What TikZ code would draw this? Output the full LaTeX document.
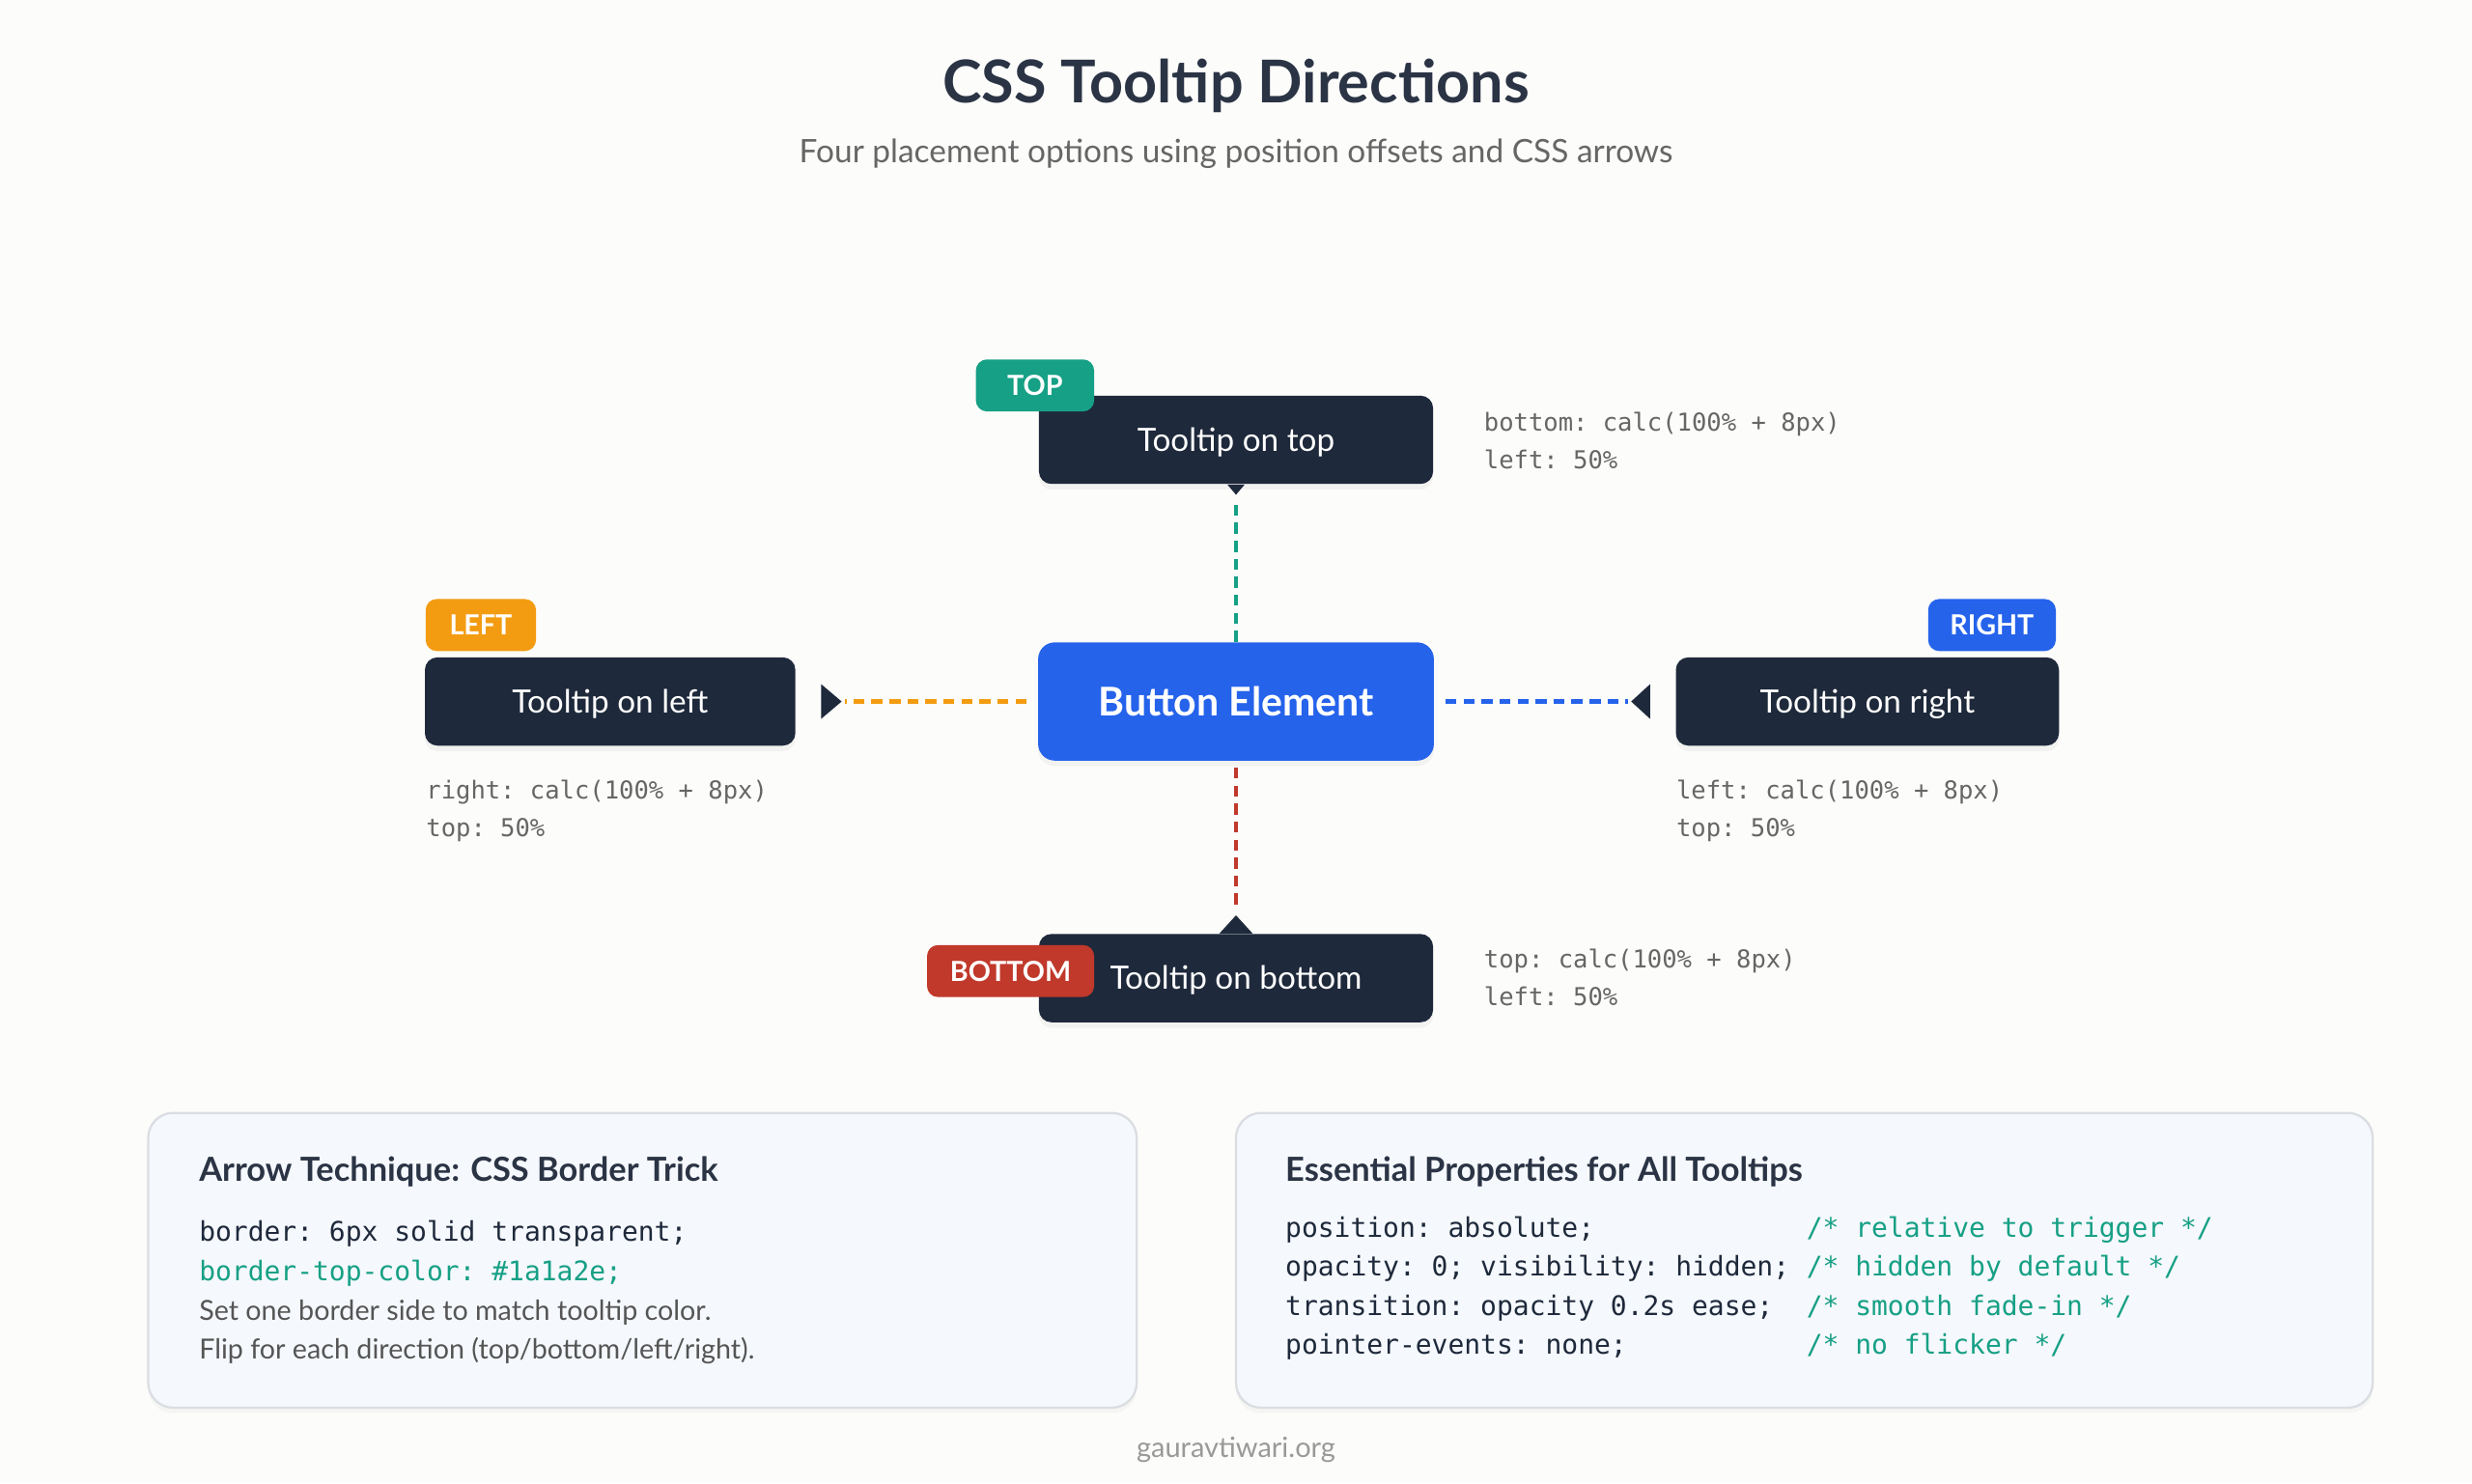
\documentclass[tikz,border=0pt]{standalone}
\usepackage{fontspec}
\setmainfont{Lato}
\setmonofont{DejaVu Sans Mono}
\usetikzlibrary{calc,shadows}

\definecolor{pagebg}{HTML}{FCFCFA}
\definecolor{titleink}{HTML}{2B3445}
\definecolor{subink}{HTML}{666666}
\definecolor{tipdark}{HTML}{1E293B}
\definecolor{btnblue}{HTML}{2563EB}
\definecolor{topteal}{HTML}{16A085}
\definecolor{leftorange}{HTML}{F39C12}
\definecolor{bottomred}{HTML}{C0392B}
\definecolor{codegray}{HTML}{666666}
\definecolor{panelbg}{HTML}{F5F8FC}
\definecolor{panelline}{HTML}{DADDE2}
\definecolor{noteink}{HTML}{555555}
\definecolor{footink}{HTML}{999999}

\def\spx{0.02cm}

\begin{document}
\begin{tikzpicture}[x=0.02cm,y=-0.02cm,
  tip/.style={fill=tipdark,rounded corners=4.5pt,minimum height=56*\spx,inner sep=0pt,
    text=white,text height=8.2pt,text depth=0pt,font=\fontsize{11.6}{14}\selectfont,
    drop shadow={opacity=0.08,shadow xshift=0pt,shadow yshift=-2pt}},
  badge/.style={rounded corners=4pt,minimum height=33*\spx,inner sep=0pt,text=white,
    text height=7.2pt,text depth=0pt,font=\bfseries\fontsize{10}{12}\selectfont},
  poslbl/.style={anchor=west,inner sep=0pt,text=codegray,text height=6.5pt,text depth=0pt,
    font=\ttfamily\fontsize{8.9}{11}\selectfont},
  link/.style={line width=1.5pt,dash pattern=on 4pt off 2.5pt},
  panel/.style={fill=panelbg,draw=panelline,line width=0.8pt,rounded corners=9pt,
    drop shadow={opacity=0.05,shadow xshift=0pt,shadow yshift=-2pt}},
  panelhead/.style={anchor=west,inner sep=0pt,text=titleink,text height=8.6pt,text depth=0pt,
    font=\bfseries\fontsize{12}{14}\selectfont},
  codeln/.style={anchor=west,inner sep=0pt,text=tipdark,text height=7.1pt,text depth=0pt,
    font=\ttfamily\fontsize{9.75}{12}\selectfont},
  noteln/.style={anchor=west,inner sep=0pt,text=noteink,text height=7.2pt,text depth=0pt,
    font=\fontsize{10}{12}\selectfont}
]
%fond
\fill[pagebg] (0,0) rectangle (1568,941);
\useasboundingbox (0,0) rectangle (1568,941);

\node[text=titleink,text height=15pt,text depth=0pt,font=\bfseries\fontsize{21.3}{25}\selectfont] (title) at (784,52) {CSS Tooltip Directions};
\node[text=subink,text height=8.3pt,text depth=0pt,font=\fontsize{11.65}{14}\selectfont] (subtitle) at (784,96) {Four placement options using position offsets and CSS arrows};

%bouton
\node[fill=btnblue,rounded corners=6pt,minimum width=251*\spx,minimum height=75*\spx,inner sep=0pt,
  text=white,text height=10.2pt,text depth=0pt,font=\bfseries\fontsize{14.3}{17}\selectfont,
  drop shadow={opacity=0.08,shadow xshift=0pt,shadow yshift=-2pt}] (btn) at (784,445) {Button Element};

%bulles
\node[tip,minimum width=250*\spx] (ttop) at (784,279) {Tooltip on top};
\node[tip,minimum width=235*\spx] (tleft) at (387,445) {Tooltip on left};
\node[tip,minimum width=243*\spx] (tright) at (1184.5,445) {Tooltip on right};
\node[tip,minimum width=250*\spx] (tbottom) at (784,620.5) {Tooltip on bottom};

%fleches css
\coordinate (toptip) at ($(ttop.south)+(0,6.5)$);
\fill[tipdark] ($(ttop.south)+(-5.5,0)$) -- ($(ttop.south)+(5.5,0)$) -- (toptip) -- cycle;
\coordinate (lefttip) at ($(tleft.east)+(29,0)$);
\fill[tipdark] ($(tleft.east)+(16,-11)$) -- ($(tleft.east)+(16,11)$) -- (lefttip) -- cycle;
\coordinate (righttip) at ($(tright.west)+(-28,0)$);
\fill[tipdark] ($(tright.west)+(-16,-11)$) -- ($(tright.west)+(-16,11)$) -- (righttip) -- cycle;
\coordinate (bottomtip) at ($(tbottom.north)+(0,-11.5)$);
\fill[tipdark] ($(tbottom.north)+(-10.5,0)$) -- ($(tbottom.north)+(10.5,0)$) -- (bottomtip) -- cycle;

\draw[link,topteal,shorten >=1.7pt] (btn.north) -- (toptip);
\draw[link,leftorange,shorten <=4pt,shorten >=1.1pt] (btn.west) -- (lefttip);
\draw[link,btnblue,shorten <=4pt,shorten >=1.1pt] (btn.east) -- (righttip);
\draw[link,bottomred,shorten <=2.3pt,shorten >=1.7pt] (btn.south) -- (bottomtip);

%etiquettes
\node[badge,fill=topteal,minimum width=75*\spx] (btop) at (656.5,244.5) {TOP};
\node[badge,fill=leftorange,minimum width=70*\spx] (bleft) at (305,396.5) {LEFT};
\node[badge,fill=btnblue,minimum width=81*\spx] (bright) at (1263.5,396.5) {RIGHT};
\node[badge,fill=bottomred,minimum width=106*\spx] (bbottom) at (641,616) {BOTTOM};

%positions
\node[poslbl] (ctop1) at (941,268) {bottom: calc(100\% + 8px)};
\node[poslbl] (ctop2) at (941,291.5) {left: 50\%};
\node[poslbl] (cleft1) at (270,501) {right: calc(100\% + 8px)};
\node[poslbl] (cleft2) at (270,525) {top: 50\%};
\node[poslbl] (cright1) at (1063,501) {left: calc(100\% + 8px)};
\node[poslbl] (cright2) at (1063,525) {top: 50\%};
\node[poslbl] (cbot1) at (941,608) {top: calc(100\% + 8px)};
\node[poslbl] (cbot2) at (941,632) {left: 50\%};

%encadres du bas
\draw[panel] (94,706) rectangle (721,893);
\draw[panel] (784,706) rectangle (1505,893);

\node[panelhead] (ahead) at (126,742) {Arrow Technique: CSS Border Trick};
\node[codeln] (acode1) at (126,781) {border: 6px solid transparent;};
\node[codeln,text=topteal] (acode2) at (126,806) {border-top-color: \#1a1a2e;};
\node[noteln] (anote1) at (126,831.5) {Set one border side to match tooltip color.};
\node[noteln] (anote2) at (126,856) {Flip for each direction (top/bottom/left/right).};

\node[panelhead] (ehead) at (815,742) {Essential Properties for All Tooltips};
\node[codeln] (ecode1) at (815,778.5) {position: absolute;};
\node[codeln] (ecode2) at (815,803) {opacity: 0; visibility: hidden;};
\node[codeln] (ecode3) at (815,828) {transition: opacity 0.2s ease;};
\node[codeln] (ecode4) at (815,853) {pointer-events: none;};
\node[codeln,text=topteal] (enote1) at (1145.5,778.5) {/* relative to trigger */};
\node[codeln,text=topteal] (enote2) at (1145.5,803) {/* hidden by default */};
\node[codeln,text=topteal] (enote3) at (1145.5,828) {/* smooth fade-in */};
\node[codeln,text=topteal] (enote4) at (1145.5,853) {/* no flicker */};

\node[text=footink,text height=7.3pt,text depth=0pt,font=\fontsize{10.1}{12}\selectfont] (foot) at (784,918) {gauravtiwari.org};
\end{tikzpicture}
\end{document}
